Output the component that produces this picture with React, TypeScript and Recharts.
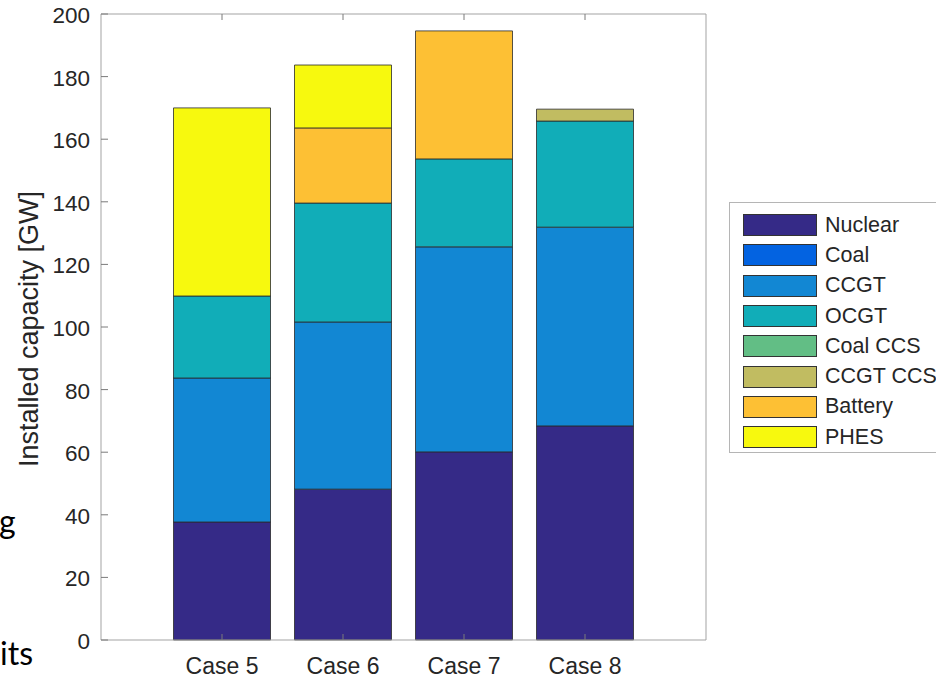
import { BarChart, Bar, XAxis, YAxis, Legend } from "recharts";

const categories = ["Case 5", "Case 6", "Case 7", "Case 8"];
const positions = [1, 2, 3, 4];
const nuclear = [37.7, 48.2, 60.1, 68.4];
const coal = [0, 0, 0, 0];
const ccgt = [46.0, 53.4, 65.5, 63.5];
const ocgt = [26.2, 38.0, 28.1, 33.9];
const coalCcs = [0, 0, 0, 0];
const ccgtCcs = [0, 0, 0, 3.8];
const battery = [0, 24.0, 40.9, 0];
const phes = [60.1, 20.1, 0, 0];
const yTicks = [0, 20, 40, 60, 80, 100, 120, 140, 160, 180, 200];

const series = [
  { key: "nuclear", name: "Nuclear", values: nuclear, color: "#352A87" },
  { key: "coal", name: "Coal", values: coal, color: "#0363E1" },
  { key: "ccgt", name: "CCGT", values: ccgt, color: "#1287D3" },
  { key: "ocgt", name: "OCGT", values: ocgt, color: "#11ADB8" },
  { key: "coalCcs", name: "Coal CCS", values: coalCcs, color: "#62BE85" },
  { key: "ccgtCcs", name: "CCGT CCS", values: ccgtCcs, color: "#C1BC61" },
  { key: "battery", name: "Battery", values: battery, color: "#FDC034" },
  { key: "phes", name: "PHES", values: phes, color: "#F7F90E" },
];

const data = categories.map((name, i) => {
  const row: Record<string, number | string> = { name, pos: positions[i] };
  series.forEach((s) => {
    row[s.key] = s.values[i];
  });
  return row;
});

const FONT = "'Liberation Sans', Arial, sans-serif";
const TICK_COLOR = "#7a7a7a";
const LABEL_COLOR = "#262626";
const BOX_COLOR = "#a3a3a3";

function LeftTick(props: any) {
  const { x, y, payload } = props;
  return (
    <g>
      <line x1={x} x2={x + 7} y1={y} y2={y} stroke={TICK_COLOR} />
      <text x={x - 11} y={y + 9} textAnchor="end" fontSize={22.5} fontFamily={FONT} fill={LABEL_COLOR}>
        {payload.value}
      </text>
    </g>
  );
}

function RightTick(props: any) {
  const { x, y } = props;
  return <line x1={x - 7} x2={x} y1={y} y2={y} stroke={TICK_COLOR} />;
}

function BottomTick(props: any) {
  const { x, y, payload } = props;
  return (
    <g>
      <line x1={x} x2={x} y1={y} y2={y - 6} stroke={TICK_COLOR} />
      <text x={x} y={y + 34} textAnchor="middle" fontSize={23} fontFamily={FONT} fill={LABEL_COLOR}>
        {categories[payload.value - 1]}
      </text>
    </g>
  );
}

function TopTick(props: any) {
  const { x, y } = props;
  return <line x1={x} x2={x} y1={y} y2={y + 6} stroke={TICK_COLOR} />;
}

function YLabel(props: any) {
  const { viewBox } = props;
  const cy = viewBox.y + viewBox.height / 2 + 2;
  return (
    <text
      x={38}
      y={cy}
      transform={`rotate(-90, 38, ${cy})`}
      textAnchor="middle"
      fontSize={27}
      fontFamily={FONT}
      fill={LABEL_COLOR}
    >
      Installed capacity [GW]
    </text>
  );
}

function LegendBox() {
  return (
    <div
      style={{
        width: 230,
        height: 251,
        border: "1px solid #b5b5b5",
        background: "#fff",
        boxSizing: "border-box",
        paddingTop: 7,
        fontFamily: FONT,
      }}
    >
      {series.map((s) => (
        <div key={s.key} style={{ display: "flex", alignItems: "center", height: 30.3 }}>
          <div
            style={{
              marginLeft: 13,
              width: 74,
              height: 22,
              background: s.color,
              border: "1px solid #333",
              boxSizing: "border-box",
            }}
          />
          <span style={{ marginLeft: 8, fontSize: 21.5, color: LABEL_COLOR, whiteSpace: "nowrap" }}>
            {s.name}
          </span>
        </div>
      ))}
    </div>
  );
}

export default function App() {
  return (
    <div
      style={{
        position: "fixed",
        left: 0,
        top: 0,
        width: 936,
        height: 681,
        background: "#fff",
        overflow: "hidden",
      }}
    >
      <svg width={60} height={681} style={{ position: "absolute", left: 0, top: 0 }}>
        <text x={-1} y={533} fontSize={32} fontFamily="Lato, 'Open Sans', sans-serif" fill="#000">
          g
        </text>
        <text x={0} y={665} fontSize={32} fontFamily="Lato, 'Open Sans', sans-serif" fill="#000">
          its
        </text>
      </svg>
      <BarChart
        width={936}
        height={681}
        data={data}
        margin={{ top: 13, right: 229, bottom: 11, left: 41 }}
        style={{ position: "absolute", left: 0, top: 0 }}
      >
        <XAxis
          dataKey="pos"
          type="number"
          domain={[0, 5]}
          ticks={positions}
          height={30}
          tickSize={0}
          tickMargin={0}
          tickLine={false}
          axisLine={{ stroke: BOX_COLOR }}
          tick={<BottomTick />}
          interval={0}
        />
        <XAxis
          xAxisId="top"
          orientation="top"
          dataKey="pos"
          type="number"
          domain={[0, 5]}
          ticks={positions}
          height={1}
          tickSize={0}
          tickMargin={0}
          tickLine={false}
          axisLine={{ stroke: BOX_COLOR }}
          tick={<TopTick />}
          interval={0}
        />
        <YAxis
          type="number"
          domain={[0, 200]}
          ticks={yTicks}
          width={60}
          tickSize={0}
          tickMargin={0}
          tickLine={false}
          axisLine={{ stroke: BOX_COLOR }}
          tick={<LeftTick />}
          interval={0}
          label={<YLabel />}
        />
        <YAxis
          yAxisId="right"
          orientation="right"
          type="number"
          domain={[0, 200]}
          ticks={yTicks}
          width={1}
          tickSize={0}
          tickMargin={0}
          tickLine={false}
          axisLine={{ stroke: BOX_COLOR }}
          tick={<RightTick />}
          interval={0}
        />
        <Legend
          layout="vertical"
          align="center"
          verticalAlign="middle"
          content={() => <LegendBox />}
          wrapperStyle={{ left: 729, top: 202, width: 230 }}
        />
        {series.map((s) => (
          <Bar
            key={s.key}
            dataKey={s.key}
            name={s.name}
            stackId="a"
            fill={s.color}
            stroke="#2a2a2a"
            strokeWidth={0.8}
            barSize={97}
            isAnimationActive={false}
          />
        ))}
      </BarChart>
    </div>
  );
}
